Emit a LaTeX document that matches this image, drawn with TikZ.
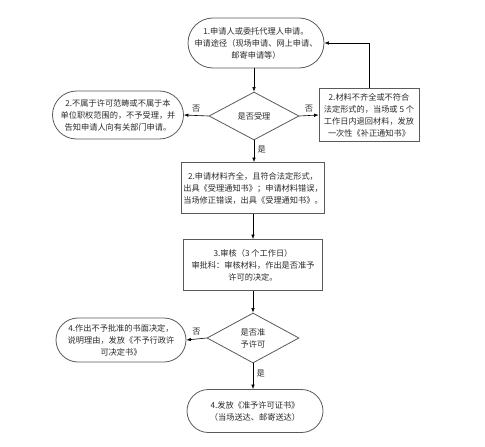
\documentclass[tikz,border=0pt]{standalone}
\usepackage{fontspec}
\setmainfont{Noto Sans CJK SC}
\usepackage{xcolor}
\usepackage{tikz}
\usetikzlibrary{shapes.geometric, shapes.misc, arrows.meta, positioning}

\definecolor{boxline}{HTML}{5A5A5A}
\definecolor{txt}{HTML}{2A2A2A}

\begin{document}
\begin{tikzpicture}[
    x=1pt, y=-1pt,
    every node/.style={font=\fontsize{8.2}{12}\selectfont, text=txt},
    stadium/.style={rounded rectangle, draw=boxline, thick, fill=white,
                    minimum width=138pt, minimum height=50pt, align=center, inner sep=1pt},
    sidestadium/.style={rounded rectangle, draw=boxline, thick, fill=white,
                        minimum width=133pt, minimum height=48pt, align=center, inner sep=1pt},
    procbox/.style={rectangle, draw=boxline, thick, fill=white,
                    minimum width=139pt, minimum height=51pt, align=center, inner sep=2pt},
    decide/.style={diamond, draw=boxline, thick, fill=white,
                   minimum width=90pt, minimum height=48pt, align=center, inner sep=0pt},
    flow/.style={-{Latex[length=4.5pt, width=3.5pt]}, black, line width=0.6pt},
    yesno/.style={font=\fontsize{8.2}{10}\selectfont},
]
\useasboundingbox (0,0) rectangle (485,447);

% Application
\node[stadium] (apply) at (256,43) {1.申请人或委托代理人申请。\\申请途径（现场申请、网上申请、\\邮寄申请等）};

% First decision and its branches
\node[decide] (accept) at (254,116) {是否受理};
\node[sidestadium] (reject) at (118,115) {2.不属于许可范畴或不属于本\\单位职权范围的，不予受理，并\\告知申请人向有关部门申请。};
\node[rectangle, draw=boxline, thick, minimum width=100pt, minimum height=53pt,
      align=center, inner sep=1pt] (amend) at (369,115) {2.材料不齐全或不符合\\法定形式的，当场或 5 个\\工作日内退回材料，发放\\一次性《补正通知书》};

% Acceptance and review
\node[procbox] (receipt) at (253,188) {2.申请材料齐全，且符合法定形式，\\出具《受理通知书》；申请材料错误，\\当场修正错误，出具《受理通知书》。};
\node[procbox] (review) at (253,265) {3.审核（3 个工作日）\\审批科：审核材料，作出是否准予\\许可的决定。};

% Second decision and outcomes
\node[decide, minimum width=92pt, minimum height=50pt] (permit) at (253,338) {是否准\\予许可};
\node[sidestadium, minimum width=132pt, minimum height=44pt] (deny) at (121,340) {4.作出不予批准的书面决定，\\说明理由，发放《不予行政许\\可决定书》};
\node[stadium, minimum height=43pt] (grant) at (255,411) {4.发放《准予许可证书》\\（当场送达、邮寄送达）};

% Connectors
\draw[flow] (apply.south -| accept.north) -- (accept.north);
\draw[flow] (accept.west) -- node[yesno, above] {否} (reject.east);
\draw[flow] (accept.east) -- node[yesno, above] {否} (amend.west);
\draw[flow] (amend.north) |- (apply.east);
\draw[flow] (accept.south) -- node[yesno, right, pos=0.4] {是} (accept.south |- receipt.north);
\draw[flow] (receipt.south) -- (review.north);
\draw[flow] (review.south) -- (review.south |- permit.north);
\draw[flow] (permit.west) -- node[yesno, above] {否} (deny.east);
\draw[flow] (permit.south) -- node[yesno, right, pos=0.4] {是} (permit.south |- grant.north);

\end{tikzpicture}
\end{document}
